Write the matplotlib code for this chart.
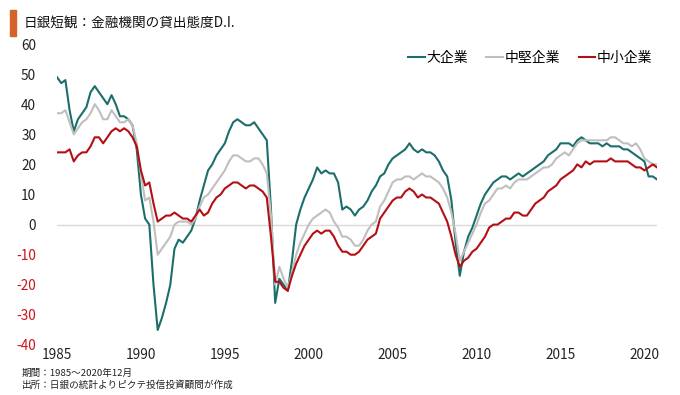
import matplotlib
matplotlib.use("Agg")
import matplotlib.pyplot as plt
import matplotlib.patches as mpatches

plt.rcParams['font.family'] = ['Noto Sans CJK JP', 'DejaVu Sans']

start_year = 1985
n_quarters = 144

large = [49, 47, 48, 38, 31, 35, 37, 39, 44, 46, 44, 42, 40, 43, 40, 36,
         36, 35, 33, 25, 10, 2, 0, -20, -35, -31, -26, -20, -8, -5,
         -6, -4, -2, 2, 8, 13, 18, 20, 23, 25, 27, 31, 34, 35, 34, 33,
         33, 34, 32, 30, 28, 5, -26, -18, -20, -22, -12, 0, 5, 9,
         12, 15, 19, 17, 18, 17, 17, 14, 5, 6, 5, 3, 5, 6, 8, 11,
         13, 16, 17, 20, 22, 23, 24, 25, 27, 25, 24, 25, 24, 24, 23, 21,
         18, 16, 8, -6, -17, -9, -4, -1, 3, 7, 10, 12, 14, 15, 16, 16,
         15, 16, 17, 16, 17, 18, 19, 20, 21, 23, 24, 25, 27, 27, 27, 26,
         28, 29, 28, 27, 27, 27, 26, 27, 26, 26, 26, 25, 25, 24, 23, 22,
         21, 16, 16, 15]

mid = [37, 37, 38, 34, 30, 32, 34, 35, 37, 40, 38, 35, 35, 38, 36, 34,
       34, 35, 33, 27, 17, 8, 9, 1, -10, -8, -6, -4, 0, 1,
       1, 1, 0, 2, 6, 9, 10, 12, 14, 16, 18, 21, 23, 23, 22, 21,
       21, 22, 22, 20, 17, 3, -20, -14, -18, -21, -16, -10, -6, -3,
       0, 2, 3, 4, 5, 4, 1, -1, -4, -4, -5, -7, -7, -5, -2, 0,
       1, 6, 8, 11, 14, 15, 15, 16, 16, 15, 16, 17, 16, 16, 15, 14,
       12, 9, 4, -3, -12, -9, -6, -3, 0, 4, 7, 8, 10, 12, 12, 13,
       12, 14, 15, 15, 15, 16, 17, 18, 19, 19, 20, 22, 23, 24, 23, 25,
       27, 28, 28, 28, 28, 28, 28, 28, 29, 29, 28, 27, 27, 26, 27, 25,
       22, 21, 20, 20]

small = [24, 24, 24, 25, 21, 23, 24, 24, 26, 29, 29, 27, 29, 31, 32, 31,
         32, 31, 29, 26, 18, 13, 14, 7, 1, 2, 3, 3, 4, 3,
         2, 2, 1, 3, 5, 3, 4, 7, 9, 10, 12, 13, 14, 14, 13, 12,
         13, 13, 12, 11, 9, -4, -19, -19, -21, -22, -17, -13, -10, -7,
         -5, -3, -2, -3, -2, -2, -4, -7, -9, -9, -10, -10, -9, -7, -5, -4,
         -3, 2, 4, 6, 8, 9, 9, 11, 12, 11, 9, 10, 9, 9, 8, 7,
         4, 1, -4, -10, -14, -12, -11, -9, -8, -6, -4, -1, 0, 0, 1, 2,
         2, 4, 4, 3, 3, 5, 7, 8, 9, 11, 12, 13, 15, 16, 17, 18,
         20, 19, 21, 20, 21, 21, 21, 21, 22, 21, 21, 21, 21, 20, 19, 19,
         18, 19, 20, 19]

series_names = ['大企業', '中堅企業', '中小企業']
series_colors = ['#1b6e6c', '#bfbfbf', '#b40f14']

year_ticks = [1985, 1990, 1995, 2000, 2005, 2010, 2015, 2020]
y_ticks = [60, 50, 40, 30, 20, 10, 0, -10, -20, -30, -40]
y_tick_labels = ['60', '50', '40', '30', '20', '10', '0', '-10', '-20', '-30', '-40']

title = '日銀短観：金融機関の貸出態度D.I.'
note1 = '期間：1985～2020年12月'
note2 = '出所：日銀の統計よりピクテ投信投資顧問が作成'

x = [start_year + q / 4 for q in range(n_quarters)]

W, H = 680, 395
fig = plt.figure(figsize=(W / 100, H / 100), dpi=100)
ax = fig.add_axes([57 / W, 1 - 345 / H, 600 / W, 301 / H])

ax.axhline(0, color='#d9d9d9', lw=1.0, zorder=1)
for vals, name, col in zip([large, mid, small], series_names, series_colors):
    ax.plot(x, vals, color=col, lw=1.5, label=name, zorder=3)

ax.set_xlim(x[0], x[-1])
ax.set_ylim(-40, 60)
ax.set_xticks(year_ticks)
ax.set_xticklabels([str(y) for y in year_ticks])
ax.set_yticks(y_ticks)
ax.set_yticklabels(y_tick_labels)
for lab, v in zip(ax.get_yticklabels(), y_ticks):
    lab.set_color('#d0101a' if v < 0 else '#222222')
for lab in ax.get_xticklabels():
    lab.set_color('#222222')
ax.tick_params(axis='both', length=0, labelsize=9.8)
ax.tick_params(axis='y', pad=15)
ax.tick_params(axis='x', pad=2)
for s in ax.spines.values():
    s.set_visible(False)

leg = ax.legend(loc='upper right', bbox_to_anchor=(1.006, 1.005), ncol=3, frameon=False,
                fontsize=10, handlelength=1.2, handletextpad=0.1, columnspacing=1.35,
                borderaxespad=0.2)

fig.patches.append(mpatches.Rectangle((10 / W, 1 - 36 / H), 6 / W, 26 / H,
                                      transform=fig.transFigure, color='#d4622a'))
fig.text(24 / W, 1 - 23 / H, title, fontsize=9.8, va='center', ha='left', color='#111111')
fig.text(22 / W, 1 - 373 / H, note1, fontsize=6.9, va='center', ha='left', color='#222222')
fig.text(22 / W, 1 - 385 / H, note2, fontsize=6.9, va='center', ha='left', color='#222222')

fig.savefig('out.png', dpi=100)
